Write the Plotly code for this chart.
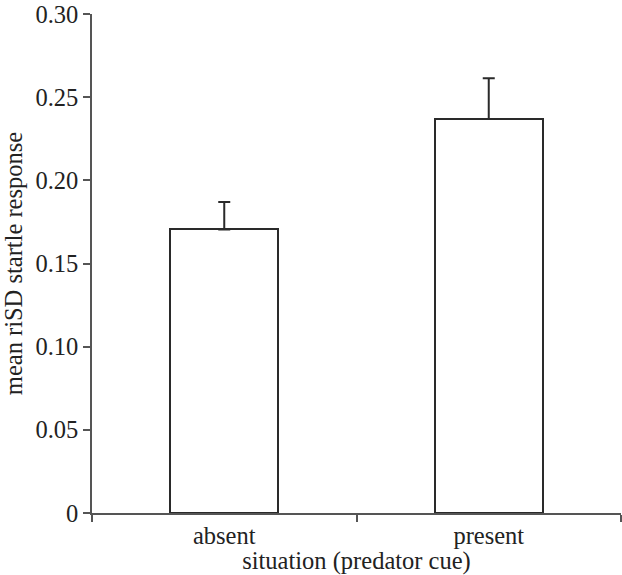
import plotly.graph_objects as go

categories = ["absent", "present"]
means = [0.1705, 0.2368]
errors = [0.0165, 0.0245]
y_ticks = [0, 0.05, 0.10, 0.15, 0.20, 0.25, 0.30]
y_tick_labels = ["0", "0.05", "0.10", "0.15", "0.20", "0.25", "0.30"]

font_family = "Liberation Serif, Times New Roman, serif"
line_col = "#2a2a2a"
fs = 24.5

fig = go.Figure()
fig.add_trace(go.Bar(
    x=categories,
    y=means,
    width=0.41,
    marker=dict(color="white", line=dict(color=line_col, width=2)),
    error_y=dict(type="data", symmetric=False, array=errors,
                 arrayminus=[0] * len(errors),
                 color=line_col, thickness=2, width=6),
))

fig.update_layout(
    width=622, height=575,
    margin=dict(l=92, r=1, t=14, b=62),
    paper_bgcolor="white", plot_bgcolor="white",
    font=dict(family=font_family, size=fs, color="#222"),
    showlegend=False,
    bargap=0,
)
fig.update_xaxes(
    type="category",
    range=[-0.5, 1.5],
    tickson="boundaries",
    automargin=False,
    ticks="outside", ticklen=7, tickwidth=1.5, tickcolor="#555",
    showline=True, linecolor="#555", linewidth=1.5,
    showgrid=False, zeroline=False,
    tickfont=dict(size=fs),
    title=dict(text="situation (predator cue)", font=dict(size=fs), standoff=0),
)
fig.update_yaxes(
    range=[0, 0.30],
    automargin=False,
    ticklabeloverflow="allow",
    tickvals=y_ticks, ticktext=y_tick_labels,
    ticks="outside", ticklen=7, tickwidth=1.5, tickcolor="#555",
    showline=True, linecolor="#555", linewidth=1.5,
    showgrid=False, zeroline=False,
    tickfont=dict(size=fs),
    title=dict(text="mean riSD startle response", font=dict(size=fs), standoff=8),
)

fig.write_html("out.html", config={"displayModeBar": False},
               post_script="document.body.style.margin='0';")
